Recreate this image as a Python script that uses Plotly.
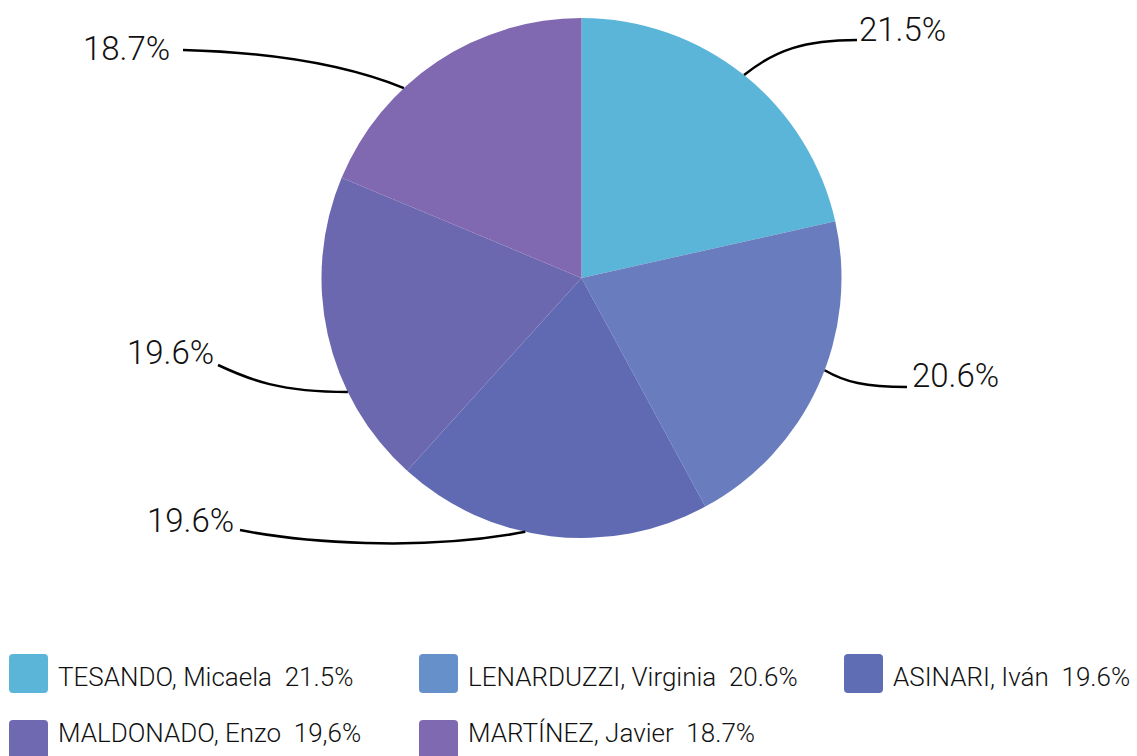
import math
import plotly.graph_objects as go

# ---- data ----
names = ["TESANDO, Micaela", "LENARDUZZI, Virginia", "ASINARI, Iván",
         "MALDONADO, Enzo", "MARTÍNEZ, Javier"]
values = [21.5, 20.6, 19.6, 19.6, 18.7]
value_labels = ["21.5%", "20.6%", "19.6%", "19.6%", "18.7%"]
legend_values = ["21.5%", "20.6%", "19.6%", "19,6%", "18.7%"]

# ---- style ----
W, H = 1137, 756
pie_colors = ["#5BB5D8", "#687CBE", "#5F6AB3", "#6B68B0", "#8069B0"]
legend_colors = ["#5BB5D8", "#6690CA", "#5F6DB5", "#6E69B0", "#7F69B0"]
FONT = "Roboto"
TXT = "#111111"

cx, cy, R = 581.5, 278.0, 260.0  # pixel geometry of the pie


def px(x):
    return x / W


def py(y):
    return 1 - y / H


fig = go.Figure(go.Pie(
    labels=names, values=values, sort=False, direction="clockwise",
    rotation=0, marker=dict(colors=pie_colors, line=dict(width=0)),
    textinfo="none", hoverinfo="label+percent", showlegend=False,
    domain=dict(x=[px(cx - R), px(cx + R)], y=[py(cy + R), py(cy - R)]),
))

# leader-line anchor position inside each slice (fraction of slice span)
anchor_frac = [0.5, 0.45, 0.58, 0.31, 0.36]
# label text anchor (pixel), alignment, and leader-line end / control shaping
label_pos = [(857, 30, "left"), (910, 375, "left"), (236, 520, "right"),
             (216, 352, "right"), (172, 48, "right")]
line_end = [(857, 40), (907, 387), (240, 530), (218, 365), (183, 50)]
ctrl = [((775, 50), (805, 40)), ((845, 382), (865, 387)),
        ((420, 552), (300, 542)), ((280, 392), (250, 380)),
        ((340, 62), (260, 52))]

total = sum(values)
cum = 0.0
shapes = []
annotations = []
for i, v in enumerate(values):
    a0 = cum / total * 360
    a1 = (cum + v) / total * 360
    cum += v
    ang = math.radians(a0 + anchor_frac[i] * (a1 - a0))
    sx = cx + R * math.sin(ang)
    sy = cy - R * math.cos(ang)
    (c1x, c1y), (c2x, c2y) = ctrl[i]
    ex, ey = line_end[i]
    path = (f"M {px(sx)},{py(sy)} C {px(c1x)},{py(c1y)} "
            f"{px(c2x)},{py(c2y)} {px(ex)},{py(ey)}")
    shapes.append(dict(type="path", xref="paper", yref="paper", path=path,
                       line=dict(color="#000000", width=2.5)))
    lx, ly, al = label_pos[i]
    annotations.append(dict(xref="paper", yref="paper", x=px(lx), y=py(ly),
                            xanchor=al, yanchor="middle", showarrow=False,
                            text=value_labels[i],
                            font=dict(family=FONT, size=33, color=TXT,
                                      weight=300)))

# custom legend (3 columns, 2 rows)
col_x = [9, 419, 844]
row_sq_top = [654, 720]
row_txt_y = [677, 733]
SQ = 39
for i, name in enumerate(names):
    r, c = divmod(i, 3)
    x0, y0 = col_x[c], row_sq_top[r]
    x1, y1 = x0 + SQ, y0 + SQ
    k = 4
    path = (f"M {px(x0 + k)},{py(y0)} L {px(x1 - k)},{py(y0)} "
            f"Q {px(x1)},{py(y0)} {px(x1)},{py(y0 + k)} "
            f"L {px(x1)},{py(y1 - k)} Q {px(x1)},{py(y1)} {px(x1 - k)},{py(y1)} "
            f"L {px(x0 + k)},{py(y1)} Q {px(x0)},{py(y1)} {px(x0)},{py(y1 - k)} "
            f"L {px(x0)},{py(y0 + k)} Q {px(x0)},{py(y0)} {px(x0 + k)},{py(y0)} Z")
    shapes.append(dict(type="path", xref="paper", yref="paper", path=path,
                       fillcolor=legend_colors[i], line=dict(width=0)))
    annotations.append(dict(xref="paper", yref="paper", x=px(x1 + 8),
                            y=py(row_txt_y[r]), xanchor="left", yanchor="middle",
                            showarrow=False,
                            text=f"{name} \u00a0{legend_values[i]}",
                            font=dict(family=FONT, size=26, color=TXT,
                                      weight=300)))

fig.update_layout(
    width=W, height=H, margin=dict(l=0, r=0, t=0, b=0),
    paper_bgcolor="#FFFFFF", plot_bgcolor="#FFFFFF",
    shapes=shapes, annotations=annotations, showlegend=False,
)

fig.write_html(
    "out.html",
    config={"displayModeBar": False},
    post_script="document.body.style.margin='0';document.body.style.padding='0';",
)
